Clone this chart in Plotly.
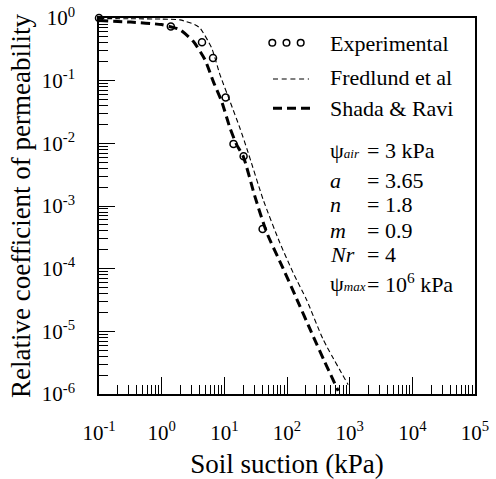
import plotly.graph_objects as go

# ---- data ----
exp_x = [0.1, 1.4, 4.4, 6.6, 10.5, 14.0, 20.3, 40.8]
exp_y = [1.0, 0.73, 0.41, 0.23, 0.054, 0.0098, 0.0062, 0.00043]

fred_x = [0.1, 0.32, 1.0, 1.96, 3.40, 4.08, 6.27, 8.51, 12.3, 17.7, 24.0, 41.7, 77.1, 126, 206, 378, 946]
fred_y = [0.977, 0.973, 0.96, 0.933, 0.782, 0.693, 0.333, 0.125, 0.0468, 0.0176, 0.0071,
          0.00126, 2.57e-4, 8.5e-5, 3.16e-5, 7.4e-6, 1.41e-6]

shada_x = [0.1, 0.32, 1.0, 1.44, 1.96, 3.19, 4.91, 6.65, 9.06, 12.3, 15.7, 20.0, 30.8, 47.3,
           86.9, 134, 262, 398, 656]
shada_y = [0.91, 0.86, 0.785, 0.718, 0.65, 0.424, 0.216, 0.0975, 0.0468, 0.0176, 0.00953,
           0.00621, 0.00141, 3.8e-4, 1.0e-4, 3.8e-5, 8.3e-6, 3.3e-6, 1.12e-6]

x_exponents = [-1, 0, 1, 2, 3, 4, 5]
y_exponents = [0, -1, -2, -3, -4, -5, -6]

legend_names = ["Experimental", "Fredlund et al", "Shada & Ravi"]
SUB = '<span style="font-size:13px"><i>%s</i></span>'
param_labels = ["ψ" + SUB % "air", "<i>a</i>", "<i>n</i>", "<i>m</i>", "<i>Nr</i>", "ψ" + SUB % "max"]
param_values = ["= 3 kPa", "= 3.65", "= 1.8", "= 0.9", "= 4", "= 10<sup>6</sup> kPa"]

FONT = "Liberation Serif"

fig = go.Figure()
fig.add_trace(go.Scatter(x=fred_x, y=fred_y, mode="lines", line=dict(color="black", width=1.1, dash="5px,3px", shape="spline", smoothing=0.6),
                         name=legend_names[1], showlegend=False, cliponaxis=False))
fig.add_trace(go.Scatter(x=shada_x, y=shada_y, mode="lines", line=dict(color="black", width=3, dash="9px,5px", shape="spline", smoothing=0.6),
                         name=legend_names[2], showlegend=False, cliponaxis=False))
fig.add_trace(go.Scatter(x=exp_x, y=exp_y, mode="markers",
                         marker=dict(symbol="circle-open", size=7, color="black", line=dict(width=1.5)),
                         name=legend_names[0], showlegend=False, cliponaxis=False))

# plot area in pixels
L, T, R, B = 99, 18, 475, 394
W, H = 496, 479

def px(x):
    return (x - L) / (R - L)

def py(y):
    return (B - y) / (B - T)

minor_x = [m * 10.0 ** e for e in range(-1, 5) for m in range(2, 10)]
minor_y = [m * 10.0 ** e for e in range(-6, 0) for m in range(2, 10)]

def sup(e):
    return "10<sup>%s</sup>" % (str(e) if e >= 0 else "-" + str(-e))

fig.update_xaxes(type="log", range=[-1, 5], showline=True, linecolor="black", linewidth=1.5, mirror=True,
                 showgrid=False, zeroline=False, automargin=False,
                 tickmode="array", tickvals=[10.0 ** e for e in x_exponents], ticktext=[sup(e) for e in x_exponents],
                 ticks="inside", ticklen=17, tickwidth=1.3, tickcolor="black",
                 minor=dict(tickmode="array", tickvals=minor_x, ticks="inside", ticklen=9, tickwidth=1.1, tickcolor="black"),
                 tickfont=dict(family=FONT, size=21, color="black"), ticklabelstandoff=19,
                 title=dict(text="Soil suction (kPa)", font=dict(family=FONT, size=27, color="black"), standoff=10))
fig.update_yaxes(type="log", range=[-6, 0], showline=True, linecolor="black", linewidth=1.5, mirror=True,
                 showgrid=False, zeroline=False, automargin=False,
                 tickmode="array", tickvals=[10.0 ** e for e in y_exponents], ticktext=[sup(e) for e in y_exponents],
                 ticks="inside", ticklen=16, tickwidth=1.3, tickcolor="black",
                 minor=dict(tickmode="array", tickvals=minor_y, ticks="inside", ticklen=9, tickwidth=1.1, tickcolor="black"),
                 tickfont=dict(family=FONT, size=21, color="black"), ticklabelstandoff=18,
                 title=dict(text="Relative coefficient of permeability", font=dict(family=FONT, size=27, color="black"), standoff=3))

# manual legend
shapes = []
for cx in [272.3, 286.5, 300.7]:
    shapes.append(dict(type="circle", xref="paper", yref="paper", x0=px(cx - 3.3), x1=px(cx + 3.3),
                       y0=py(42.7 + 3.3), y1=py(42.7 - 3.3), line=dict(color="black", width=1.5)))
shapes.append(dict(type="line", xref="paper", yref="paper", x0=px(273), x1=px(309), y0=py(79), y1=py(79),
                   line=dict(color="black", width=1.1, dash="5px,3.7px")))
shapes.append(dict(type="line", xref="paper", yref="paper", x0=px(273), x1=px(310), y0=py(108.3), y1=py(108.3),
                   line=dict(color="black", width=3, dash="9px,5px")))

ann = []
for name, yy in zip(legend_names, [43, 77.5, 108]):
    ann.append(dict(text=name, x=px(328), y=py(yy), xref="paper", yref="paper", xanchor="left", yanchor="middle",
                    showarrow=False, font=dict(family=FONT, size=22, color="black")))
for lab, val, yy in zip(param_labels, param_values, [150, 180, 204.5, 230, 255, 283]):
    ann.append(dict(text=lab, x=px(328), y=py(yy), xref="paper", yref="paper", xanchor="left", yanchor="middle",
                    showarrow=False, font=dict(family=FONT, size=22, color="black")))
    ann.append(dict(text=val, x=px(365), y=py(yy), xref="paper", yref="paper", xanchor="left", yanchor="middle",
                    showarrow=False, font=dict(family=FONT, size=22, color="black")))

fig.update_layout(width=W, height=H, margin=dict(l=L, r=W - R, t=T, b=H - B),
                  paper_bgcolor="white", plot_bgcolor="white", showlegend=False,
                  shapes=shapes, annotations=ann)

fig.write_html("out.html")
